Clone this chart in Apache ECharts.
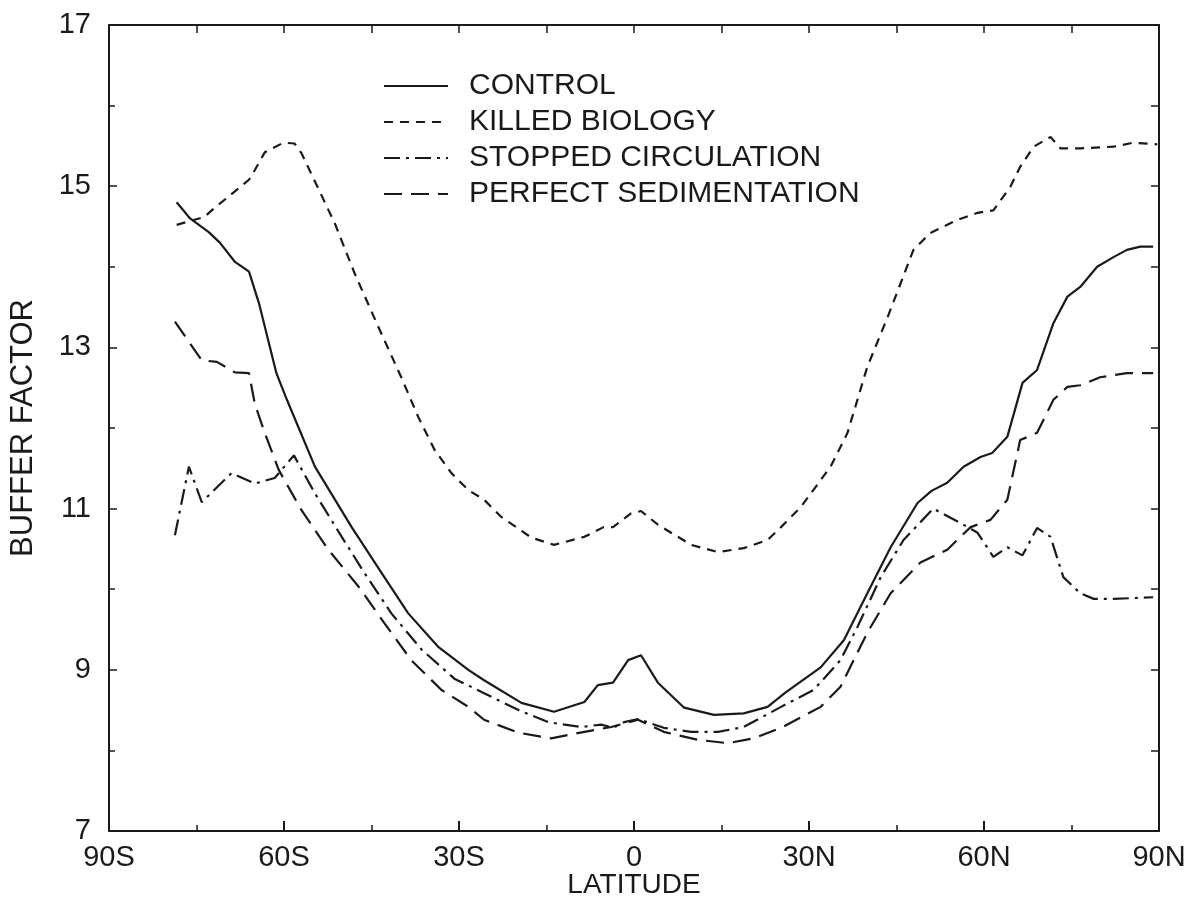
<!DOCTYPE html>
<html>
<head>
<meta charset="UTF-8">
<title>Buffer factor</title>
<script src="https://cdn.jsdelivr.net/npm/echarts@6/dist/echarts.min.js"></script>
</head>
<body style="margin:0;background:#fff;">
<div id="main" style="width:1191px;height:910px;"></div>
<script type="text/javascript">
// values (latitude in degrees, south negative)
var controlLat = [-78.4, -76.1, -72.9, -71.0, -68.4, -66.0, -64.3, -61.3, -59.5, -54.7, -48.4, -42.8, -38.7, -33.5, -28.4, -25.7, -19.3, -13.7, -8.5, -6.2, -3.6, -1.0, 1.2, 4.1, 8.6, 13.7, 18.8, 22.9, 26.0, 32.0, 36.0, 40.0, 44.0, 48.6, 51.0, 53.7, 56.5, 59.4, 61.4, 64.0, 66.6, 69.1, 71.9, 74.3, 76.5, 79.4, 82.2, 84.5, 86.8, 89.0];
var controlVal = [14.80, 14.60, 14.43, 14.30, 14.06, 13.94, 13.55, 12.68, 12.35, 11.52, 10.77, 10.15, 9.70, 9.28, 9.00, 8.87, 8.59, 8.48, 8.60, 8.81, 8.84, 9.12, 9.18, 8.84, 8.53, 8.44, 8.46, 8.54, 8.72, 9.03, 9.37, 9.95, 10.52, 11.07, 11.22, 11.32, 11.52, 11.64, 11.69, 11.89, 12.56, 12.72, 13.30, 13.63, 13.75, 14.00, 14.12, 14.21, 14.25, 14.25];

var killedLat = [-78.4, -73.6, -72.4, -66.0, -65.0, -63.3, -60.1, -58.2, -57.0, -51.3, -47.9, -43.8, -39.9, -37.0, -34.2, -31.3, -28.4, -25.7, -22.8, -17.6, -13.7, -8.5, -5.2, -3.6, -0.5, 1.2, 4.1, 9.8, 14.4, 18.8, 22.9, 25.2, 28.6, 33.7, 36.6, 40.0, 43.5, 47.9, 50.8, 55.4, 58.9, 61.6, 64.5, 66.2, 68.5, 71.4, 73.1, 76.5, 82.2, 85.6, 89.7];
var killedVal = [14.52, 14.62, 14.70, 15.08, 15.20, 15.42, 15.54, 15.53, 15.41, 14.54, 13.92, 13.25, 12.63, 12.14, 11.73, 11.44, 11.23, 11.11, 10.90, 10.64, 10.55, 10.65, 10.77, 10.77, 10.94, 10.97, 10.80, 10.55, 10.46, 10.51, 10.61, 10.77, 11.02, 11.52, 11.94, 12.76, 13.38, 14.21, 14.42, 14.58, 14.67, 14.70, 14.99, 15.24, 15.49, 15.61, 15.47, 15.47, 15.49, 15.54, 15.52];

var stoppedLat = [-78.7, -76.3, -74.1, -69.0, -65.0, -61.6, -58.3, -54.7, -50.1, -46.2, -41.6, -36.4, -30.8, -25.7, -19.8, -14.7, -9.1, -5.6, -3.6, -1.7, 0.7, 5.1, 9.8, 14.4, 18.8, 25.2, 30.8, 35.4, 38.3, 42.3, 46.2, 51.3, 56.0, 58.9, 61.6, 64.0, 66.6, 69.1, 71.4, 73.6, 76.5, 78.8, 82.2, 85.6, 89.0];
var stoppedVal = [10.67, 11.52, 11.08, 11.44, 11.31, 11.38, 11.66, 11.19, 10.65, 10.20, 9.70, 9.25, 8.89, 8.71, 8.50, 8.35, 8.29, 8.32, 8.28, 8.35, 8.39, 8.28, 8.23, 8.23, 8.29, 8.54, 8.75, 9.12, 9.53, 10.15, 10.61, 11.00, 10.82, 10.70, 10.40, 10.52, 10.42, 10.76, 10.65, 10.15, 9.95, 9.88, 9.88, 9.89, 9.90];

var perfectLat = [-78.7, -74.1, -71.5, -68.4, -66.0, -65.0, -63.3, -60.9, -57.0, -52.4, -47.2, -42.8, -38.2, -33.0, -28.4, -25.7, -19.8, -14.2, -8.5, -3.9, 0.7, 5.1, 11.0, 16.1, 20.5, 25.5, 32.0, 35.4, 40.0, 44.0, 49.1, 53.7, 57.7, 61.1, 64.0, 66.2, 69.1, 71.9, 74.3, 76.5, 79.9, 84.5, 89.0];
var perfectVal = [13.32, 12.84, 12.82, 12.69, 12.68, 12.30, 11.94, 11.48, 10.98, 10.49, 10.03, 9.58, 9.12, 8.75, 8.54, 8.38, 8.22, 8.15, 8.23, 8.29, 8.38, 8.23, 8.13, 8.09, 8.15, 8.29, 8.54, 8.79, 9.46, 9.95, 10.33, 10.49, 10.77, 10.86, 11.11, 11.85, 11.94, 12.35, 12.51, 12.53, 12.63, 12.68, 12.68];

var seriesNames = ['CONTROL', 'KILLED BIOLOGY', 'STOPPED CIRCULATION', 'PERFECT SEDIMENTATION'];

function pairs(xs, ys) {
    return xs.map(function (x, i) { return [x, ys[i]]; });
}

var ink = '#1a1a1a';
var fontFam = '"Liberation Sans", Arial, sans-serif';

function latLabel(v) {
    if (v % 30 !== 0) return '';
    if (v < 0) return (-v) + 'S';
    if (v > 0) return v + 'N';
    return '0';
}

var myChart = echarts.init(document.getElementById('main'));

myChart.setOption({
    backgroundColor: '#fff',
    animation: false,
    textStyle: { fontFamily: fontFam, color: ink },
    grid: { left: 107, right: 32, top: 25, bottom: 79, containLabel: false },
    legend: {
        orient: 'vertical',
        left: 378,
        top: 66,
        itemWidth: 64,
        itemHeight: 14,
        itemGap: 6,
        data: seriesNames,
        itemStyle: { opacity: 0 },
        textStyle: { fontSize: 30, color: ink, fontFamily: fontFam, padding: [0, 0, 0, 16] }
    },
    xAxis: [{
        type: 'value',
        min: -90, max: 90, interval: 30,
        name: 'LATITUDE',
        nameLocation: 'middle',
        nameGap: 40,
        nameMoveOverlap: false,
        nameTextStyle: { fontSize: 28, color: ink },
        axisLine: { onZero: false, lineStyle: { color: ink, width: 2 } },
        axisTick: { inside: true, length: 10, lineStyle: { color: ink, width: 2 } },
        minorTick: { show: true, splitNumber: 2, length: 6, lineStyle: { color: ink, width: 1.5 } },
        axisLabel: { fontSize: 29, color: ink, margin: 12, formatter: latLabel },
        splitLine: { show: false }
    }, {
        type: 'value',
        position: 'top',
        min: -90, max: 90, interval: 30,
        axisLine: { show: true, onZero: false, lineStyle: { color: ink, width: 2 } },
        axisTick: { inside: true, length: 8, lineStyle: { color: ink, width: 1.5 } },
        minorTick: { show: true, splitNumber: 2, length: 8, lineStyle: { color: ink, width: 1.5 } },
        axisLabel: { show: false },
        splitLine: { show: false }
    }],
    yAxis: [{
        type: 'value',
        min: 7, max: 17, interval: 2,
        name: 'BUFFER FACTOR',
        nameLocation: 'middle',
        nameGap: 70,
        nameRotate: 90,
        nameTextStyle: { fontSize: 31, color: ink },
        axisLine: { show: true, onZero: false, lineStyle: { color: ink, width: 2 } },
        axisTick: { show: true, inside: true, length: 8, lineStyle: { color: ink, width: 1.5 } },
        minorTick: { show: true, splitNumber: 2, length: 6, lineStyle: { color: ink, width: 1.5 } },
        axisLabel: { fontSize: 29, color: ink, margin: 18 },
        splitLine: { show: false }
    }, {
        type: 'value',
        position: 'right',
        min: 7, max: 17, interval: 2,
        axisLine: { show: true, onZero: false, lineStyle: { color: ink, width: 2 } },
        axisTick: { show: true, inside: true, length: 8, lineStyle: { color: ink, width: 1.5 } },
        minorTick: { show: true, splitNumber: 2, length: 8, lineStyle: { color: ink, width: 1.5 } },
        axisLabel: { show: false },
        splitLine: { show: false }
    }],
    series: [{
        name: seriesNames[0],
        type: 'line',
        symbol: 'none',
        data: pairs(controlLat, controlVal),
        lineStyle: { color: ink, width: 2.2, type: 'solid' },
        itemStyle: { color: ink }
    }, {
        name: seriesNames[1],
        type: 'line',
        symbol: 'none',
        data: pairs(killedLat, killedVal),
        lineStyle: { color: ink, width: 2.2, type: [9, 7] },
        itemStyle: { color: ink }
    }, {
        name: seriesNames[2],
        type: 'line',
        symbol: 'none',
        data: pairs(stoppedLat, stoppedVal),
        lineStyle: { color: ink, width: 2.2, type: [16, 6, 3, 6] },
        itemStyle: { color: ink }
    }, {
        name: seriesNames[3],
        type: 'line',
        symbol: 'none',
        data: pairs(perfectLat, perfectVal),
        lineStyle: { color: ink, width: 2.2, type: [18, 9] },
        itemStyle: { color: ink }
    }]
});
</script>
</body>
</html>
